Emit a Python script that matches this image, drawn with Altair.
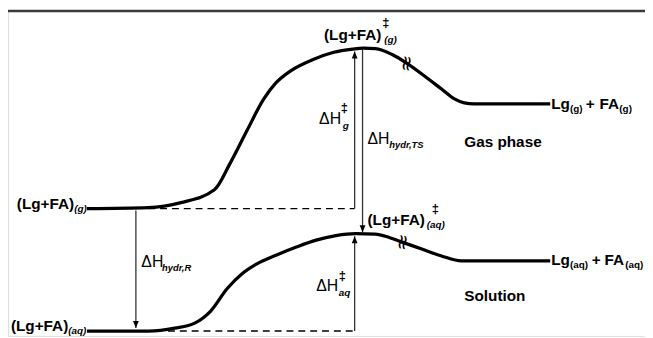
import altair as alt
import pandas as pd

# ---- reference coordinate frame (picture pixels, y grows downward) ----
X_DOMAIN = [8, 653]
Y_DOMAIN = [8, 338]
W, H = 645, 330
FONT = "Liberation Sans"

# ---- energy profiles ----
gas_x = [88, 150, 183, 217, 233, 250, 267, 279, 295, 317, 337, 357, 368, 380, 397, 412, 430, 447, 460, 470, 480, 557]
gas_y = [209, 208, 203, 190, 163, 130, 98, 82, 69, 58, 51, 47.5, 46.5, 47, 53, 62, 75, 88, 98, 102, 103, 103]

sol_x = [88, 150, 177, 197, 213, 230, 245, 260, 280, 300, 320, 340, 360, 380, 390, 407, 427, 447, 467, 480, 557]
sol_y = [333, 333, 330, 325, 313, 290, 275, 265, 256, 248, 241, 236.5, 234.5, 235, 237, 243, 250, 257, 262, 262, 262]

# ---- dashed reference levels ----
dash_x1 = [150, 170]
dash_x2 = [359, 359]
dash_y = [209, 333]

# ---- enthalpy arrows ----
arrow_x = [359, 367, 359, 137.5]
arrow_from = [209, 48, 333, 211]
arrow_tip = [50, 233, 237, 330]
arrow_dir = ["up", "down", "up", "down"]

# ---- break marks ----
break_x = [411, 407]
break_y = [62, 243]

# ---- top border ----
border_x = [8, 653]
border_y = [9]

# ---- labels ----
bold_right_text = ["(Lg+FA)", "(Lg+FA)"]
bold_right_x = [75, 69]
bold_right_y = [209, 333]

bold_left_text = ["(Lg+FA)", "(Lg+FA)", "Lg", "+", "FA", "Lg", "+", "FA", "Gas phase", "Solution"]
bold_left_x = [328, 372, 558, 593, 607, 558, 599, 612, 470, 470]
bold_left_y = [38, 226, 108, 108, 108, 266, 266, 266, 147, 303]

ital_sub_text = ["(g)", "(aq)", "(g)", "(aq)", "g", "aq"]
ital_sub_x = [75, 69, 389, 432, 347, 343]
ital_sub_y = [212, 336, 41, 229, 128, 298]

up_sub_text = ["(g)", "(g)", "(aq)", "(aq)"]
up_sub_x = [577, 627, 577, 633]
up_sub_y = [111, 111, 269, 269]

hydr_text = ["hydr,TS", "hydr,R"]
hydr_x = [394, 164]
hydr_y = [148, 272]

dh_text = ["ΔH", "ΔH", "ΔH", "ΔH"]
dh_x = [323, 372, 143, 320]
dh_y = [123, 144, 268, 292]

dag_x = [345, 387, 437, 343]
dag_y = [111, 25, 214, 281]

# ---- encodings ----
def X(field="x"):
    return alt.X(f"{field}:Q", scale=alt.Scale(domain=X_DOMAIN, nice=False, zero=False), axis=None)

def Y(field="y"):
    return alt.Y(f"{field}:Q", scale=alt.Scale(domain=Y_DOMAIN, nice=False, zero=False, reverse=True), axis=None)

layers = []

# border
layers.append(
    alt.Chart(pd.DataFrame({"x": [border_x[0]], "x2": [border_x[1]], "y": border_y}))
    .mark_rule(color="#3a3a3a", strokeWidth=2.5)
    .encode(x=X(), x2="x2:Q", y=Y())
)

# curves
curves = pd.concat([
    pd.DataFrame({"x": gas_x, "y": gas_y, "s": "gas"}),
    pd.DataFrame({"x": sol_x, "y": sol_y, "s": "sol"}),
])
layers.append(
    alt.Chart(curves)
    .mark_line(color="black", strokeWidth=3.3, interpolate="monotone")
    .encode(x=X(), y=Y(), detail="s:N", order="x:Q")
)

# dashed levels
layers.append(
    alt.Chart(pd.DataFrame({"x": dash_x1, "x2": dash_x2, "y": dash_y}))
    .mark_rule(color="black", strokeWidth=1.3, strokeDash=[7, 5])
    .encode(x=X(), x2="x2:Q", y=Y())
)

# arrows shafts
arr = pd.DataFrame({"x": arrow_x, "y": arrow_from, "y2": arrow_tip, "d": arrow_dir})
layers.append(
    alt.Chart(arr)
    .mark_rule(color="#333", strokeWidth=1.3)
    .encode(x=X(), y=Y(), y2="y2:Q")
)
# arrow heads (tip at the symbol origin)
up_path = "M0,0L-0.7,1.7L0.7,1.7Z"
down_path = "M0,0L-0.7,-1.7L0.7,-1.7Z"
layers.append(
    alt.Chart(arr[arr.d == "up"])
    .mark_point(shape=up_path, filled=True, color="black", size=70, opacity=1)
    .encode(x=X(), y=Y("y2"))
)
layers.append(
    alt.Chart(arr[arr.d == "down"])
    .mark_point(shape=down_path, filled=True, color="black", size=70, opacity=1)
    .encode(x=X(), y=Y("y2"))
)

# break marks
layers.append(
    alt.Chart(pd.DataFrame({"x": break_x, "y": break_y, "t": ["≈", "≈"]}))
    .mark_text(font="DejaVu Sans", fontSize=21, angle=100,
               align="center", baseline="middle", color="black")
    .encode(x=X(), y=Y(), text="t:N")
)


def text_layer(xs, ys, ts, size, weight="normal", style="normal", align="left", font=FONT):
    return (
        alt.Chart(pd.DataFrame({"x": xs, "y": ys, "t": ts}))
        .mark_text(font=font, fontSize=size, fontWeight=weight, fontStyle=style,
                   align=align, baseline="alphabetic", color="black")
        .encode(x=X(), y=Y(), text="t:N")
    )

layers.append(text_layer(bold_right_x, bold_right_y, bold_right_text, 15.5, "bold", align="right"))
layers.append(text_layer(bold_left_x, bold_left_y, bold_left_text, 15.5, "bold"))
layers.append(text_layer(ital_sub_x, ital_sub_y, ital_sub_text, 10, "bold", "italic"))
layers.append(text_layer(up_sub_x, up_sub_y, up_sub_text, 10, "bold"))
layers.append(text_layer(hydr_x, hydr_y, hydr_text, 9.5, "bold", "italic"))
layers.append(text_layer(dh_x, dh_y, dh_text, 16))
layers.append(text_layer(dag_x, dag_y, ["‡"] * len(dag_x), 13, "bold"))

chart = (
    alt.layer(*layers)
    .properties(width=W, height=H, padding=0, autosize=alt.AutoSizeParams(type="none"))
    .configure_view(stroke=None)
    .configure(background="white")
)

chart.save("out.html", embed_options={"renderer": "svg", "actions": False})
